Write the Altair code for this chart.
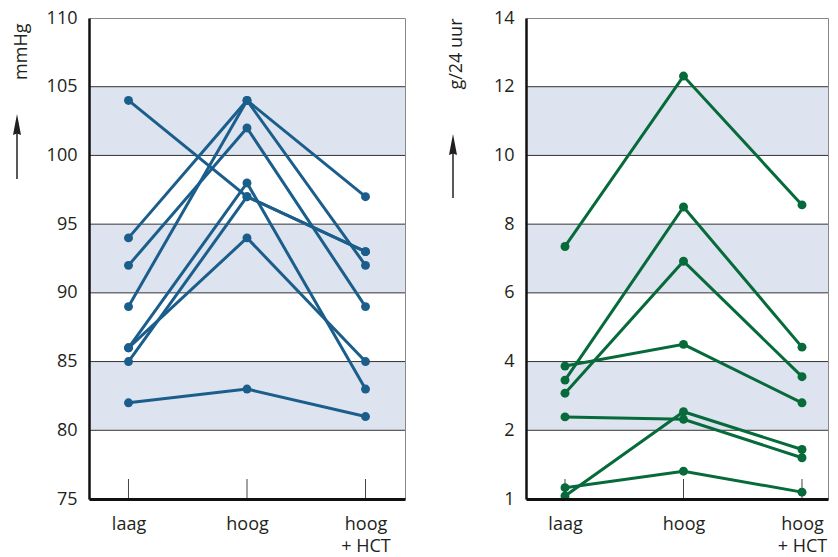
import altair as alt
import pandas as pd

# ---------------- data ----------------
categories = ["laag", "hoog", "hoog + HCT"]

# left panel: blood pressure (mmHg), one entry per subject
bp_laag = [104, 94, 89, 92, 86, 85, 86, 82]
bp_hoog = [97, 104, 104, 102, 98, 97, 94, 83]
bp_hct = [93, 97, 92, 89, 83, 93, 85, 81]
bp_ticks = [75, 80, 85, 90, 95, 100, 105, 110]
bp_grid = [80, 85, 90, 95, 100, 105]
bp_band_lo = [80, 90, 100]
bp_band_hi = [85, 95, 105]

# right panel: g/24 uur
na_laag = [7.35, 3.46, 3.08, 3.87, 2.39, 0.09, 0.33]
na_hoog = [12.31, 8.5, 6.92, 4.5, 2.32, 2.54, 0.81]
na_hct = [8.56, 4.42, 3.56, 2.80, 1.20, 1.44, 0.20]
na_ticks = [0, 2, 4, 6, 8, 10, 12, 14]
na_grid = [2, 4, 6, 8, 10, 12]
na_band_lo = [2, 6, 10]
na_band_hi = [4, 8, 12]

FONT = "Open Sans"
TEXT = "#231f20"
BAND = "#dde3ef"
H = 481


def long_df(a, b, c):
    rows = []
    for i, vals in enumerate(zip(a, b, c)):
        for k, v in enumerate(vals):
            rows.append({"subj": i, "cat": categories[k], "step": k, "v": v})
    return pd.DataFrame(rows)


def arrow(x, top, bottom):
    shaft = alt.Chart(pd.DataFrame({"a": [0]})).mark_rule(
        color="#231f20", strokeWidth=1.5
    ).encode(x=alt.value(x), y=alt.value(top + 18), y2=alt.value(bottom))
    head = alt.Chart(pd.DataFrame({"a": [0]})).mark_point(
        shape="M0,-1L0.2,0.05L0,-0.03L-0.2,0.05Z",
        filled=True, size=1600, color="#231f20", strokeWidth=0, opacity=1,
    ).encode(x=alt.value(x), y=alt.value(top + 20))
    return shaft + head


def panel(a, b, c, ticks, grid, blo, bhi, domain, W, pad, align, color,
          title, title_x, title_y, label_expr, arrow_x, arrow_top, arrow_bottom):
    xenc = alt.X(
        "cat:N",
        scale=alt.Scale(type="point", domain=categories, padding=pad, align=align),
        sort=categories,
        axis=alt.Axis(
            title=None, labelAngle=0, ticks=False, domain=True,
            domainColor="#111", domainWidth=3, labelFont=FONT,
            labelFontSize=18, labelColor=TEXT, labelPadding=16,
            labelLineHeight=22, zindex=1,
            labelExpr="datum.value == 'hoog + HCT' ? ['hoog', '+ HCT'] : datum.label",
        ),
    )
    yscale = alt.Scale(domain=domain, nice=False, zero=False)
    yaxis = alt.Axis(
        values=ticks, title=title, grid=False, ticks=False, domain=True,
        domainColor="#111", domainWidth=2.5, labelFont=FONT, labelFontSize=18,
        labelColor=TEXT, labelPadding=12, zindex=1,
        titleFont=FONT, titleFontSize=18, titleFontWeight="normal",
        titleColor=TEXT, titleAngle=-90, titleX=title_x, titleY=title_y,
        titleAlign="right", titleBaseline="middle",
        labelExpr=label_expr,
    )
    bands = alt.Chart(pd.DataFrame({"lo": blo, "hi": bhi})).mark_rect(
        color=BAND
    ).encode(
        y=alt.Y("lo:Q", scale=yscale, axis=yaxis), y2="hi:Q",
        x=alt.value(0), x2=alt.value(W),
    )
    grid_r = alt.Chart(pd.DataFrame({"g": grid})).mark_rule(
        color="#333", strokeWidth=1
    ).encode(y=alt.Y("g:Q", scale=yscale), x=alt.value(0), x2=alt.value(W))
    xt = alt.Chart(pd.DataFrame({"cat": categories})).mark_rule(
        color="#444", strokeWidth=1
    ).encode(x=xenc, y=alt.value(H), y2=alt.value(H - 20))
    df = long_df(a, b, c)
    lines = alt.Chart(df).mark_line(color=color, strokeWidth=3).encode(
        x=xenc, y=alt.Y("v:Q", scale=yscale), detail="subj:N", order="step:Q"
    )
    pts = alt.Chart(df).mark_circle(color=color, size=80, opacity=1).encode(
        x=xenc, y=alt.Y("v:Q", scale=yscale)
    )
    return alt.layer(
        bands, grid_r, xt, lines, pts, arrow(arrow_x, arrow_top, arrow_bottom)
    ).properties(width=W, height=H)


left = panel(
    bp_laag, bp_hoog, bp_hct, bp_ticks, bp_grid, bp_band_lo, bp_band_hi,
    [75, 110], 316, 0.3333, 0.5, "#1b5e8c", "mmHg", -68, 5, "datum.label",
    -72, 96, 161,
)
right = panel(
    na_laag, na_hoog, na_hct, na_ticks, na_grid, na_band_lo, na_band_hi,
    [0, 14], 302, 0.2743, 0.6, "#076a3a", "g/24 uur", -70, 0,
    "datum.value == 0 ? '1' : datum.label",
    -73, 116, 180,
)

chart = alt.hconcat(left, right, spacing=40).properties(
    padding={"left": 3, "top": 0, "right": 0, "bottom": 0}
).configure_view(stroke="#888", strokeWidth=1)

chart.save("out.html", embed_options={"renderer": "svg", "actions": False})
